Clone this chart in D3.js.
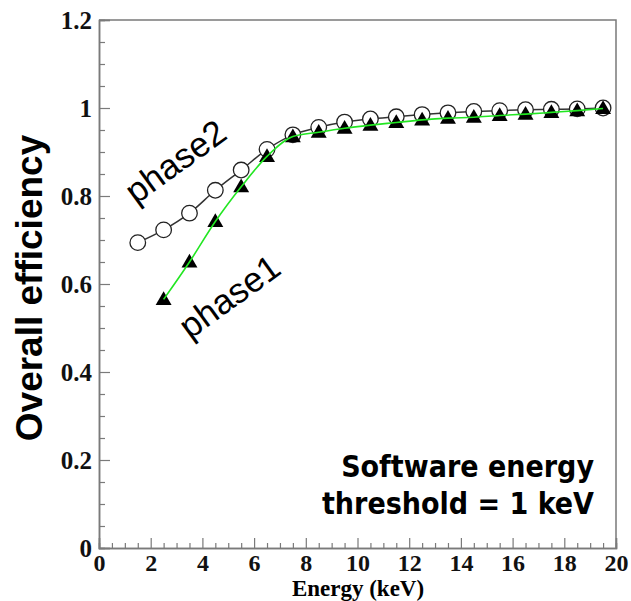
<!DOCTYPE html>
<html>
<head>
<meta charset="utf-8">
<script src="https://d3js.org/d3.v7.min.js"></script>
<style>
  html, body { margin: 0; padding: 0; background: #fff; }
  svg { display: block; }
</style>
</head>
<body>
<svg id="chart" width="631" height="601"></svg>
<script>
// Energy bins (keV) and overall efficiency for the two phases
const phase2Energy = [1.5, 2.5, 3.5, 4.5, 5.5, 6.5, 7.5, 8.5, 9.5, 10.5, 11.5, 12.5, 13.5, 14.5, 15.5, 16.5, 17.5, 18.5, 19.5];
const phase2Eff    = [0.694, 0.723, 0.761, 0.813, 0.859, 0.906, 0.939, 0.956, 0.968, 0.975, 0.980, 0.985, 0.989, 0.992, 0.994, 0.996, 0.997, 0.998, 1.000];

const phase1Energy = [2.5, 3.5, 4.5, 5.5, 6.5, 7.5, 8.5, 9.5, 10.5, 11.5, 12.5, 13.5, 14.5, 15.5, 16.5, 17.5, 18.5, 19.5];
const phase1Eff    = [0.565, 0.650, 0.742, 0.821, 0.890, 0.935, 0.945, 0.954, 0.961, 0.967, 0.973, 0.977, 0.979, 0.983, 0.986, 0.990, 0.994, 0.999];

const xMajorTicks = [0, 2, 4, 6, 8, 10, 12, 14, 16, 18, 20];
const yMajorTicks = [0, 0.2, 0.4, 0.6, 0.8, 1, 1.2];

const svg = d3.select("#chart");
const plotLeft = 99, plotRight = 616, plotTop = 20, plotBottom = 548;

const x = d3.scaleLinear().domain([0, 20]).range([plotLeft, plotRight]);
const y = d3.scaleLinear().domain([0, 1.2]).range([plotBottom, plotTop]);

const axisColor = "#7a7a7a";
const labelFont = "'Liberation Serif', 'Times New Roman', serif";

// frame (top and right)
svg.append("path")
  .attr("d", `M${plotLeft},${plotTop}H${plotRight}V${plotBottom}`)
  .attr("fill", "none").attr("stroke", axisColor).attr("stroke-width", 1.5);

// minor ticks
const xMinor = d3.range(0, 20.001, 0.5).filter(v => Math.abs(v / 2 - Math.round(v / 2)) > 1e-6);
const yMinor = d3.range(0, 1.2001, 0.05).filter(v => Math.abs(v / 0.2 - Math.round(v / 0.2)) > 1e-6);

const gxMinor = svg.append("g").attr("transform", `translate(0,${plotBottom})`)
  .call(d3.axisBottom(x).tickValues(xMinor).tickSize(-5).tickFormat(""));
const gyMinor = svg.append("g").attr("transform", `translate(${plotLeft},0)`)
  .call(d3.axisLeft(y).tickValues(yMinor).tickSize(-6).tickFormat(""));

// major ticks + labels
const gx = svg.append("g").attr("transform", `translate(0,${plotBottom})`)
  .call(d3.axisBottom(x).tickValues(xMajorTicks).tickSize(-10).tickFormat(d3.format("d")));
const gy = svg.append("g").attr("transform", `translate(${plotLeft},0)`)
  .call(d3.axisLeft(y).tickValues(yMajorTicks).tickSize(-11).tickFormat(d => d === 0 || d === 1 ? String(d) : d3.format(".1f")(d)));

[gxMinor, gyMinor, gx, gy].forEach(g => {
  g.selectAll(".domain").attr("stroke", axisColor).attr("stroke-width", 1.5);
  g.selectAll(".tick line").attr("stroke", axisColor).attr("stroke-width", 1.2);
});

gx.selectAll(".tick text")
  .attr("y", 23).attr("dy", 0)
  .attr("fill", "#111")
  .style("font-family", labelFont).style("font-weight", "bold").style("font-size", "24px");
gy.selectAll(".tick text")
  .attr("x", -7).attr("dy", "0.33em")
  .attr("fill", "#111")
  .style("font-family", labelFont).style("font-weight", "bold").style("font-size", "25px");

// axis titles
svg.append("text")
  .attr("x", 358).attr("y", 596)
  .attr("text-anchor", "middle")
  .style("font-family", labelFont).style("font-weight", "bold").style("font-size", "23px")
  .text("Energy (keV)");

svg.append("text")
  .attr("transform", "translate(42,288) rotate(-90)")
  .attr("text-anchor", "middle")
  .style("font-family", "'Liberation Sans', Arial, sans-serif").style("font-weight", "bold").style("font-size", "37px")
  .text("Overall efficiency");

// curves
const line = d3.line().x(d => x(d[0])).y(d => y(d[1])).curve(d3.curveMonotoneX);
const phase2 = phase2Energy.map((e, i) => [e, phase2Eff[i]]);
const phase1 = phase1Energy.map((e, i) => [e, phase1Eff[i]]);

svg.append("path").datum(phase2).attr("d", line)
  .attr("fill", "none").attr("stroke", "#333").attr("stroke-width", 1.5);

svg.append("g").selectAll("circle").data(phase2).join("circle")
  .attr("cx", d => x(d[0])).attr("cy", d => y(d[1])).attr("r", 7.8)
  .attr("fill", "#fff").attr("stroke", "#222").attr("stroke-width", 1.3);

svg.append("g").selectAll("path").data(phase1).join("path")
  .attr("transform", d => `translate(${x(d[0])},${y(d[1]) + 1})`)
  .attr("d", d3.symbol().type(d3.symbolTriangle).size(110))
  .attr("fill", "#000");

svg.append("path").datum(phase1).attr("d", line)
  .attr("fill", "none").attr("stroke", "#22e622").attr("stroke-width", 1.6);

// series labels
const sans = "'Liberation Sans', Arial, sans-serif";
svg.append("text")
  .attr("transform", "translate(136,205) rotate(-36)")
  .style("font-family", sans).style("font-size", "35px")
  .text("phase2");
svg.append("text")
  .attr("transform", "translate(190,340) rotate(-36)")
  .style("font-family", sans).style("font-size", "35px")
  .text("phase1");

// annotation
const note = svg.append("text")
  .attr("text-anchor", "end")
  .style("font-family", "'DejaVu Sans Condensed', 'DejaVu Sans', sans-serif")
  .style("font-weight", "bold").style("font-size", "30px");
note.append("tspan").attr("x", 594).attr("y", 477).text("Software energy");
note.append("tspan").attr("x", 594).attr("y", 514).text("threshold = 1 keV");
</script>
</body>
</html>
